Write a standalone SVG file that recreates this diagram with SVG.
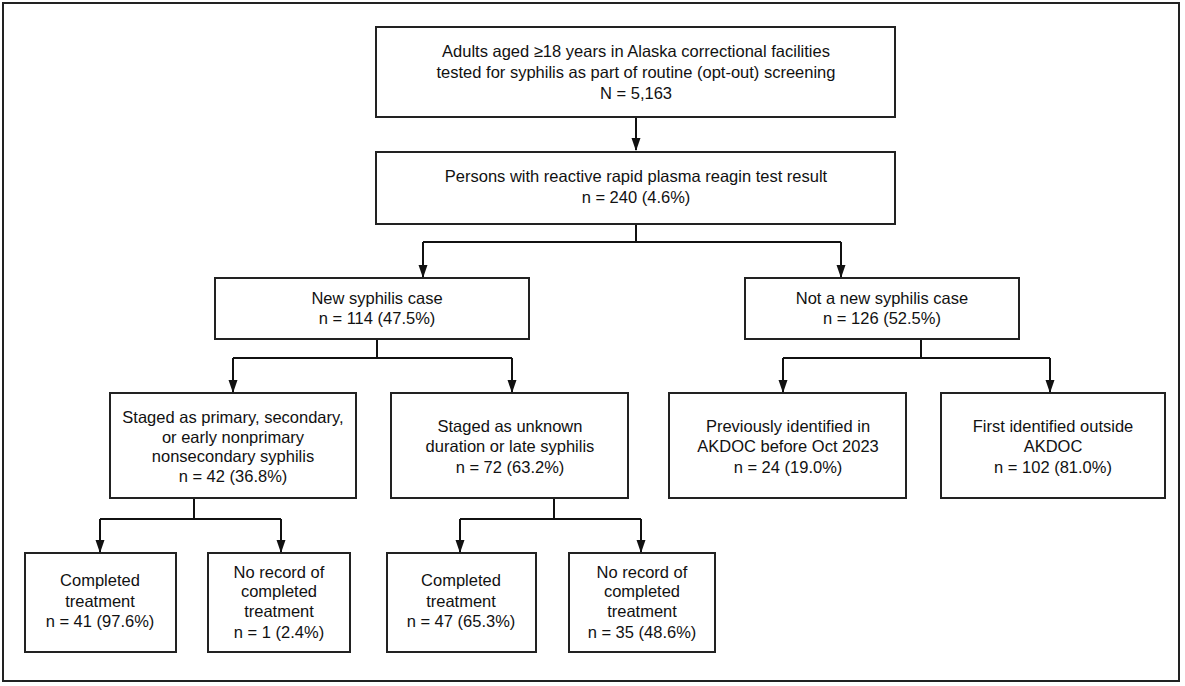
<svg xmlns="http://www.w3.org/2000/svg" width="1185" height="686" viewBox="0 0 1185 686">
<style>
.b{fill:#fff;stroke:#222;stroke-width:2}
text{font-family:"Liberation Sans",Arial,sans-serif;font-size:16.5px;fill:#111;text-anchor:middle}
.c{fill:none;stroke:#111;stroke-width:2}
</style>
<rect x="3" y="3" width="1176" height="678" fill="#fff" stroke="#222" stroke-width="2"/>
<g id="connectors">
<path class="c" d="M636,117V150"/>
<path class="c" d="M636,224V242M423,242H841M423,242V277"/>
<path class="c" d="M841,242V277"/>
<path class="c" d="M377,339V358M233,358H512M233,358V392"/>
<path class="c" d="M512,358V392"/>
<path class="c" d="M921,339V358M783,358H1050M783,358V392"/>
<path class="c" d="M1050,358V392"/>
<path class="c" d="M194,498V519M100,519H281M100,519V552"/>
<path class="c" d="M281,519V552"/>
<path class="c" d="M554,498V519M460,519H641M460,519V552"/>
<path class="c" d="M641,519V552"/>
<g fill="#111">
<path d="M631.5,138L640.5,138L636,151Z"/>
<path d="M418.5,265L427.5,265L423,278Z"/><path d="M836.5,265L845.5,265L841,278Z"/>
<path d="M228.5,380L237.5,380L233,393Z"/><path d="M507.5,380L516.5,380L512,393Z"/>
<path d="M778.5,380L787.5,380L783,393Z"/><path d="M1045.5,380L1054.5,380L1050,393Z"/>
<path d="M95.5,540L104.5,540L100,553Z"/><path d="M276.5,540L285.5,540L281,553Z"/>
<path d="M455.5,540L464.5,540L460,553Z"/><path d="M636.5,540L645.5,540L641,553Z"/>
</g>
</g>
<g id="n1"><rect class="b" x="376" y="27" width="519" height="90"/><text x="636" y="57">Adults aged ≥18 years in Alaska correctional facilities</text><text x="636" y="78">tested for syphilis as part of routine (opt-out) screening</text><text x="636" y="99">N = 5,163</text></g>
<g id="n2"><rect class="b" x="376" y="152" width="519" height="72"/><text x="636" y="182">Persons with reactive rapid plasma reagin test result</text><text x="636" y="203">n = 240 (4.6%)</text></g>
<g id="n3"><rect class="b" x="215" y="278" width="314" height="61"/><text x="377" y="304">New syphilis case</text><text x="377" y="324">n = 114 (47.5%)</text></g>
<g id="n4"><rect class="b" x="745" y="278" width="274" height="61"/><text x="882" y="304">Not a new syphilis case</text><text x="882" y="324">n = 126 (52.5%)</text></g>
<g id="n5"><rect class="b" x="110" y="393" width="246" height="105"/><text x="233" y="423">Staged as primary, secondary,</text><text x="233" y="443">or early nonprimary</text><text x="233" y="462">nonsecondary syphilis</text><text x="233" y="482">n = 42 (36.8%)</text></g>
<g id="n6"><rect class="b" x="391" y="393" width="237" height="105"/><text x="510" y="432">Staged as unknown</text><text x="510" y="452">duration or late syphilis</text><text x="510" y="473">n = 72 (63.2%)</text></g>
<g id="n7"><rect class="b" x="669" y="393" width="237" height="105"/><text x="788" y="432">Previously identified in</text><text x="788" y="452">AKDOC before Oct 2023</text><text x="788" y="473">n = 24 (19.0%)</text></g>
<g id="n8"><rect class="b" x="941" y="393" width="224" height="105"/><text x="1053" y="432">First identified outside</text><text x="1053" y="452">AKDOC</text><text x="1053" y="473">n = 102 (81.0%)</text></g>
<g id="n9"><rect class="b" x="25" y="553" width="151" height="99"/><text x="100" y="586">Completed</text><text x="100" y="607">treatment</text><text x="100" y="627">n = 41 (97.6%)</text></g>
<g id="n10"><rect class="b" x="208" y="553" width="142" height="99"/><text x="279" y="578">No record of</text><text x="279" y="597">completed</text><text x="279" y="617">treatment</text><text x="279" y="638">n = 1 (2.4%)</text></g>
<g id="n11"><rect class="b" x="387" y="553" width="149" height="99"/><text x="461" y="586">Completed</text><text x="461" y="607">treatment</text><text x="461" y="627">n = 47 (65.3%)</text></g>
<g id="n12"><rect class="b" x="569" y="553" width="146" height="99"/><text x="642" y="578">No record of</text><text x="642" y="597">completed</text><text x="642" y="617">treatment</text><text x="642" y="638">n = 35 (48.6%)</text></g>
</svg>
